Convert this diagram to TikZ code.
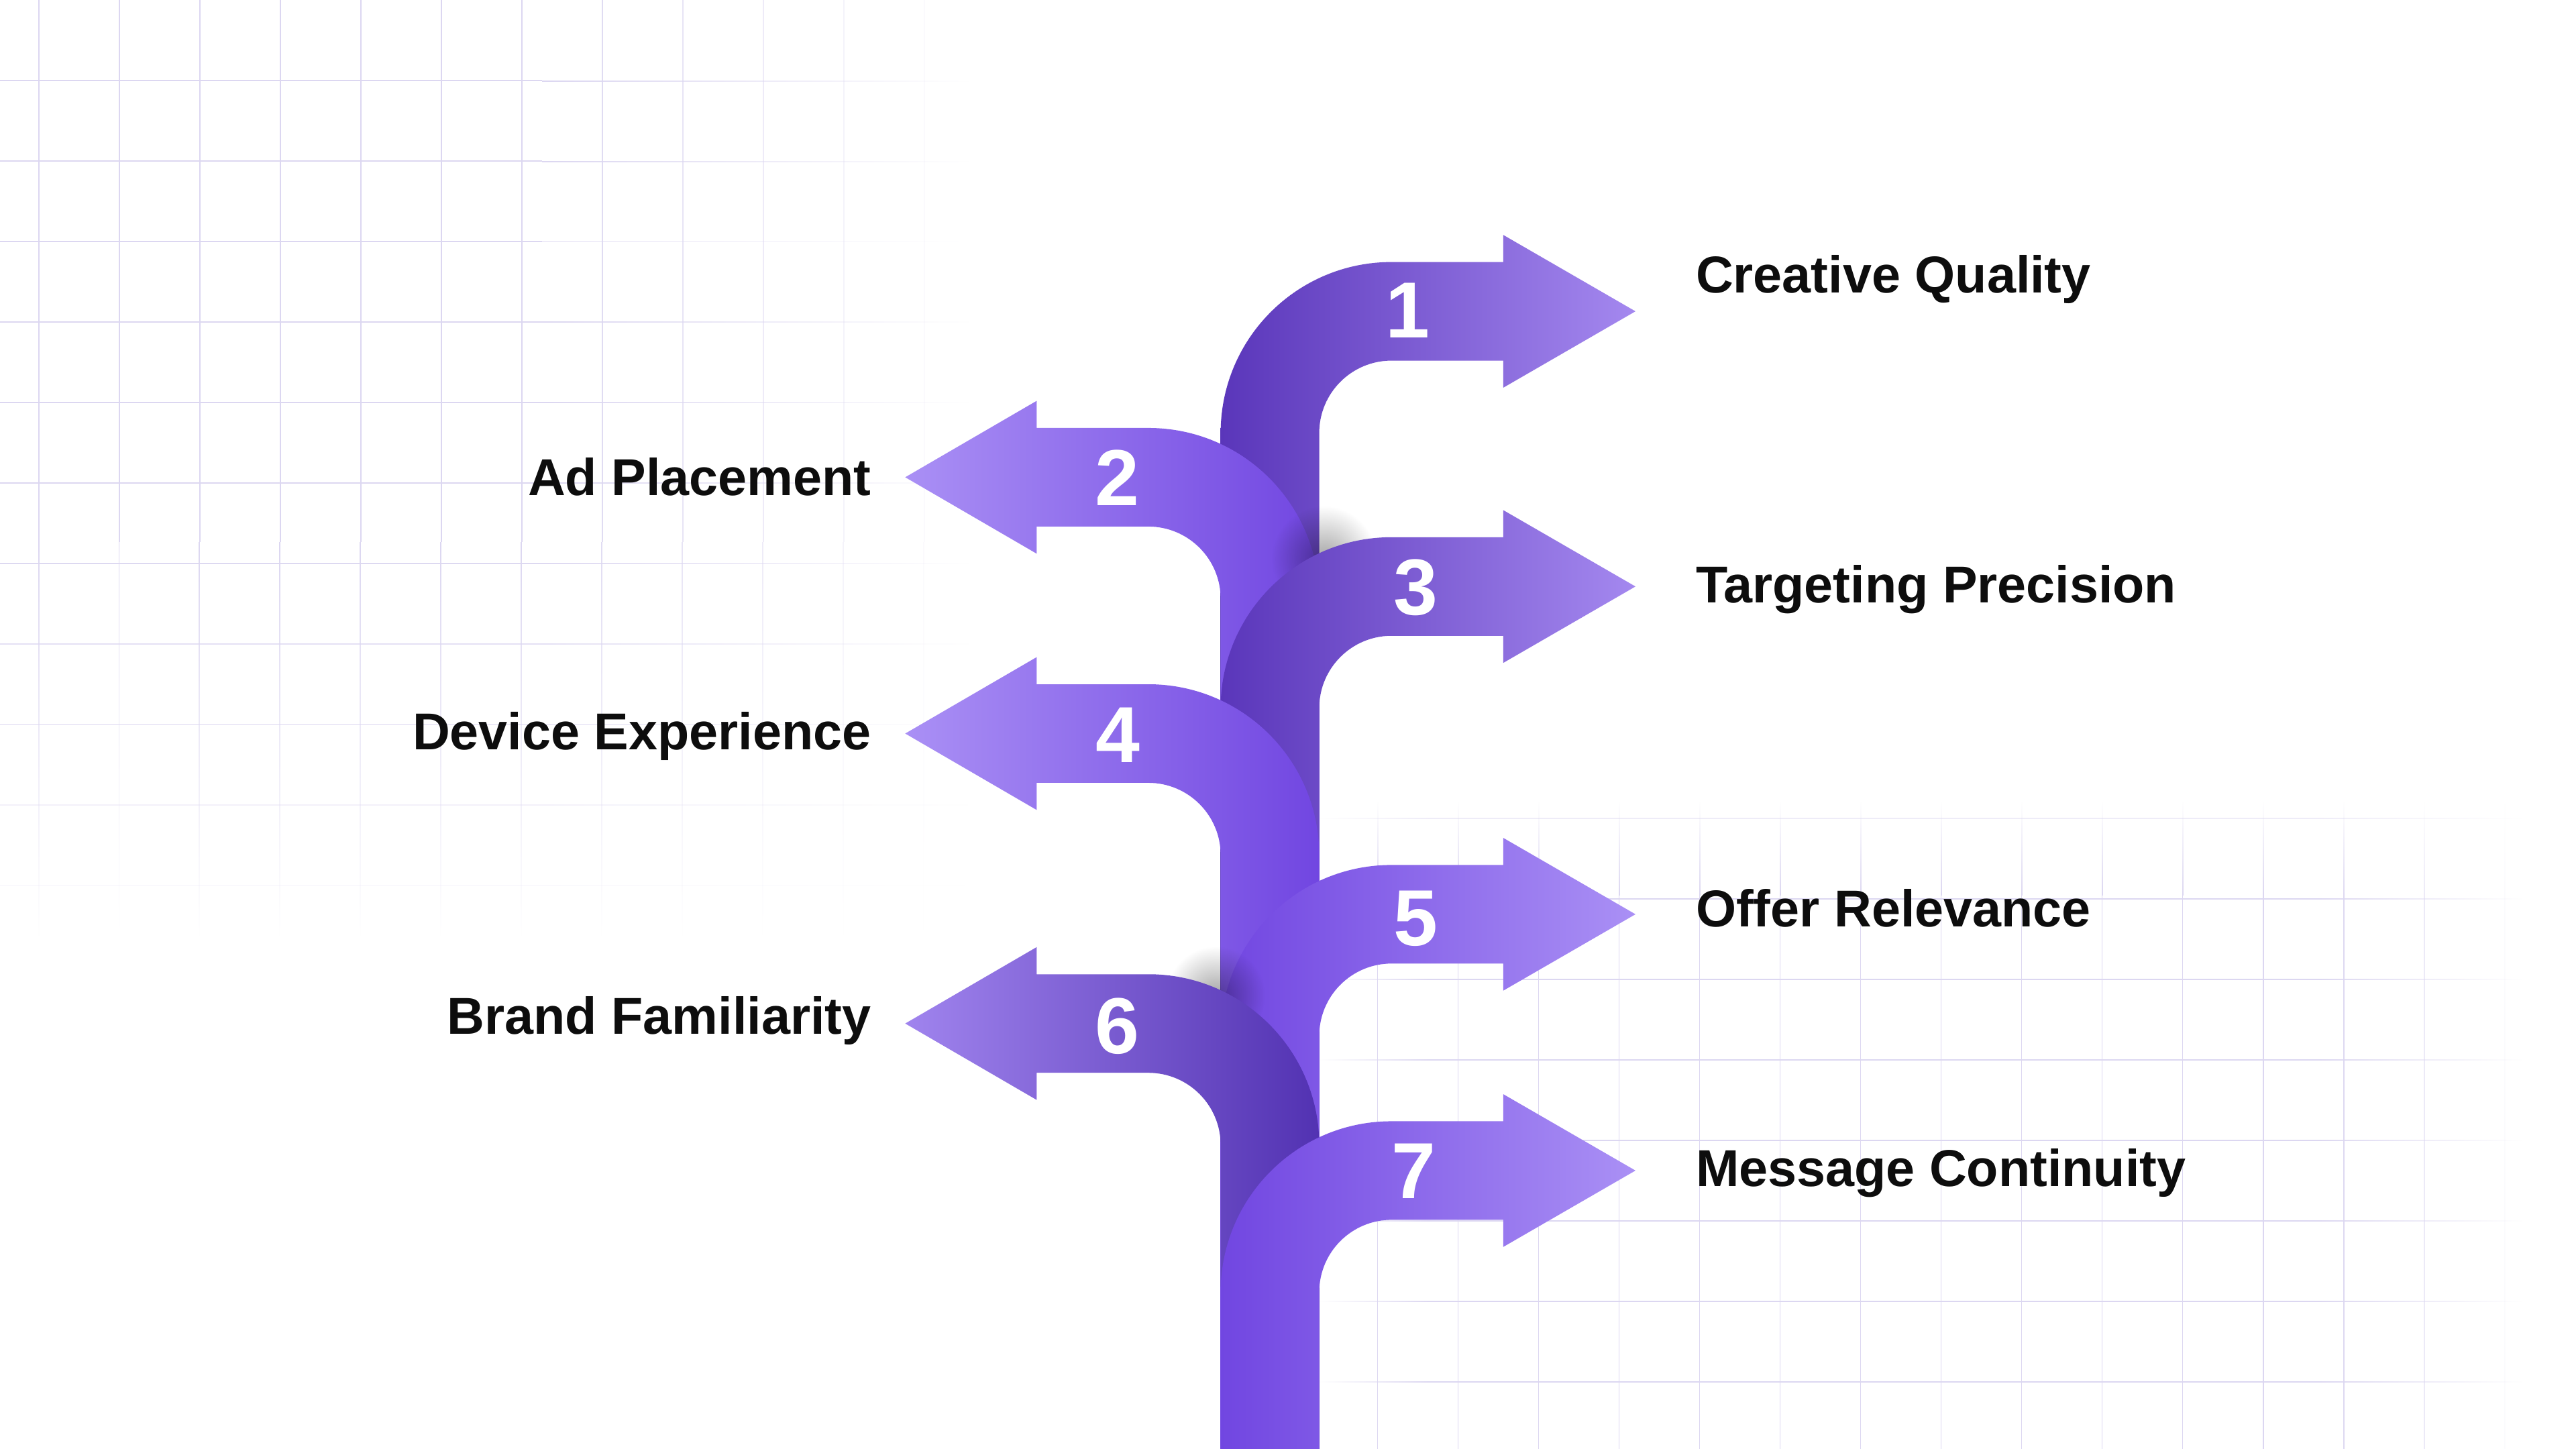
\documentclass[tikz,border=0pt]{standalone}
\usepackage{fontspec}
\setmainfont{Liberation Sans}
\usepackage{tikz}
\usetikzlibrary{fadings}
\usepackage{xcolor}

\definecolor{gridcol}{HTML}{DCD7F1}
\definecolor{labelcol}{HTML}{0D0D0D}
\definecolor{darkstem}{HTML}{5A36BA}
\definecolor{darktip}{HTML}{A488EF}
\definecolor{lightstem}{HTML}{7146E1}
\definecolor{lighttip}{HTML}{AA90F5}
\definecolor{deepstem}{HTML}{5232B2}
\definecolor{deeptip}{HTML}{A084EE}

\tikzfading[name=gridfadeE, left color=transparent!0, right color=transparent!100]
\tikzfading[name=gridfadeW, left color=transparent!100, right color=transparent!0]
\tikzfading[name=gridfadeS, top color=transparent!0, bottom color=transparent!100]
\tikzfading[name=gridfadeN, top color=transparent!100, bottom color=transparent!0]
\tikzfading[name=softblob, inner color=transparent!0, outer color=transparent!100]

\begin{document}
\begin{tikzpicture}[x=0.0244898cm, y=-0.0244898cm,
  gridline/.style={fill=gridcol},
  rightdark/.style={left color=darkstem, right color=darktip},
  rightlight/.style={left color=lightstem, right color=lighttip},
  leftlight/.style={left color=lighttip, right color=lightstem},
  leftdark/.style={left color=deeptip, right color=deepstem},
  num/.style={text=white, font=\fontsize{33.7}{40}\selectfont\bfseries, inner sep=0},
  lbl/.style={text=labelcol, font=\fontsize{22}{26}\selectfont\bfseries, inner sep=0}]

  % Background and page frame
  \fill[white] (0,0) rectangle (1568,881.6);
  \useasboundingbox (0,0) rectangle (1568,881.6);

  % Grid, upper left
  \foreach \k in {1,...,11} {
    \pgfmathsetmacro{\gy}{49*\k}
    \pgfmathsetmacro{\go}{min(1,(570-\gy)/240)}
    \fill[gridline, opacity=\go] (0,\gy-0.4) rectangle (330,\gy+0.4);
  }
  \foreach \k in {0,...,11} {
    \pgfmathsetmacro{\gx}{23.7+49*\k}
    \pgfmathsetmacro{\go}{min(1,(590-\gx)/260)}
    \fill[gridline, opacity=\go] (\gx-0.4,0) rectangle (\gx+0.4,330);
  }
  \begin{scope}
    \path[scope fading=gridfadeE] (330,0) rectangle (590,570);
    \foreach \k in {1,...,11} {
      \pgfmathsetmacro{\gy}{49*\k}
      \pgfmathsetmacro{\go}{min(1,(570-\gy)/240)}
      \fill[gridline, opacity=\go] (330,\gy-0.4) rectangle (590,\gy+0.4);
    }
  \end{scope}
  \begin{scope}
    \path[scope fading=gridfadeS] (0,330) rectangle (590,570);
    \foreach \k in {0,...,11} {
      \pgfmathsetmacro{\gx}{23.7+49*\k}
      \pgfmathsetmacro{\go}{min(1,(590-\gx)/260)}
      \fill[gridline, opacity=\go] (\gx-0.4,330) rectangle (\gx+0.4,570);
    }
  \end{scope}

  % Grid, lower right
  \foreach \k in {0,...,7} {
    \pgfmathsetmacro{\gy}{498+49*\k}
    \pgfmathsetmacro{\go}{min(1,(\gy-470)/60)}
    \fill[gridline, opacity=\go] (870,\gy-0.4) rectangle (1410,\gy+0.4);
  }
  \foreach \k in {0,...,14} {
    \pgfmathsetmacro{\gx}{838.5+49*\k}
    \pgfmathsetmacro{\go}{max(0,min(1,(1535-\gx)/115))}
    \fill[gridline, opacity=\go] (\gx-0.4,545) rectangle (\gx+0.4,882);
  }
  \begin{scope}
    \path[scope fading=gridfadeW] (803,488) rectangle (870,882);
    \foreach \k in {0,...,7} {
      \pgfmathsetmacro{\gy}{498+49*\k}
      \pgfmathsetmacro{\go}{min(1,(\gy-470)/60)}
      \fill[gridline, opacity=\go] (803,\gy-0.4) rectangle (870,\gy+0.4);
    }
  \end{scope}
  \begin{scope}
    \path[scope fading=gridfadeE] (1410,488) rectangle (1535,882);
    \foreach \k in {0,...,7} {
      \pgfmathsetmacro{\gy}{498+49*\k}
      \pgfmathsetmacro{\go}{min(1,(\gy-470)/60)}
      \fill[gridline, opacity=\go] (1410,\gy-0.4) rectangle (1535,\gy+0.4);
    }
  \end{scope}
  \begin{scope}
    \path[scope fading=gridfadeN] (803,488) rectangle (1535,545);
    \foreach \k in {0,...,14} {
      \pgfmathsetmacro{\gx}{838.5+49*\k}
      \pgfmathsetmacro{\go}{max(0,min(1,(1535-\gx)/115))}
      \fill[gridline, opacity=\go] (\gx-0.4,488) rectangle (\gx+0.4,545);
    }
  \end{scope}

  % Arrow 1 (right)
  \shade[rightdark] (743,882) -- (743,263.5) arc[start angle=180, end angle=270, radius=104]
    -- (915,159.5) -- (915,143) -- (995.5,189.5) -- (915,236) -- (915,219.5)
    -- (847,219.5) arc[start angle=270, end angle=180, radius=44] -- (803,882) -- cycle;

  % Arrow 2 (left)
  \shade[leftlight] (803,882) -- (803,364.5) arc[start angle=0, end angle=-90, radius=104]
    -- (631,260.5) -- (631,244) -- (551,290.5) -- (631,337) -- (631,320.5)
    -- (699,320.5) arc[start angle=-90, end angle=0, radius=44] -- (743,882) -- cycle;

  % Arrow 3 (right), with its shadow
  \fill[black, opacity=0.35, path fading=softblob] (806,340) circle (32);
  \shade[rightdark] (743,882) -- (743,431) arc[start angle=180, end angle=270, radius=104]
    -- (915,327) -- (915,310.5) -- (995.5,357) -- (915,403.5) -- (915,387)
    -- (847,387) arc[start angle=270, end angle=180, radius=44] -- (803,882) -- cycle;

  % Arrow 4 (left)
  \shade[leftlight] (803,882) -- (803,520.5) arc[start angle=0, end angle=-90, radius=104]
    -- (631,416.5) -- (631,400) -- (551,446.5) -- (631,493) -- (631,476.5)
    -- (699,476.5) arc[start angle=-90, end angle=0, radius=44] -- (743,882) -- cycle;

  % Arrow 5 (right)
  \shade[rightlight] (743,882) -- (743,630.5) arc[start angle=180, end angle=270, radius=104]
    -- (915,526.5) -- (915,510) -- (995.5,556.5) -- (915,603) -- (915,586.5)
    -- (847,586.5) arc[start angle=270, end angle=180, radius=44] -- (803,882) -- cycle;

  % Arrow 6 (left), with its shadow
  \fill[black, opacity=0.35, path fading=softblob] (740,606) circle (30);
  \shade[leftdark] (803,882) -- (803,697) arc[start angle=0, end angle=-90, radius=104]
    -- (631,593) -- (631,576.5) -- (551,623) -- (631,669.5) -- (631,653)
    -- (699,653) arc[start angle=-90, end angle=0, radius=44] -- (743,882) -- cycle;

  % Arrow 7 (right)
  \shade[rightlight] (743,882) -- (743,786.5) arc[start angle=180, end angle=270, radius=104]
    -- (915,682.5) -- (915,666) -- (995.5,712.5) -- (915,759) -- (915,742.5)
    -- (847,742.5) arc[start angle=270, end angle=180, radius=44] -- (803,882) -- cycle;

  % Numbers on the arrows
  \node[num] (d1) at (857,189) {1};
  \node[num] (d2) at (680,290.6) {2};
  \node[num] (d3) at (861.6,357.5) {3};
  \node[num] (d4) at (680.3,447.5) {4};
  \node[num] (d5) at (861.7,559) {5};
  \node[num] (d6) at (680,624.5) {6};
  \node[num] (d7) at (860.5,712.7) {7};

  % Labels
  \node[lbl, anchor=base west] (q1) at (1032,178.4) {Creative Quality};
  \node[lbl, anchor=base east] (q2) at (530.5,301.5) {Ad Placement};
  \node[lbl, anchor=base west] (q3) at (1032,367) {Targeting Precision};
  \node[lbl, anchor=base east] (q4) at (530.5,456.5) {Device Experience};
  \node[lbl, anchor=base west] (q5) at (1032,564.2) {Offer Relevance};
  \node[lbl, anchor=base east] (q6) at (530.5,629.6) {Brand Familiarity};
  \node[lbl, anchor=base west] (q7) at (1032,722.3) {Message Continuity};
\end{tikzpicture}
\end{document}
